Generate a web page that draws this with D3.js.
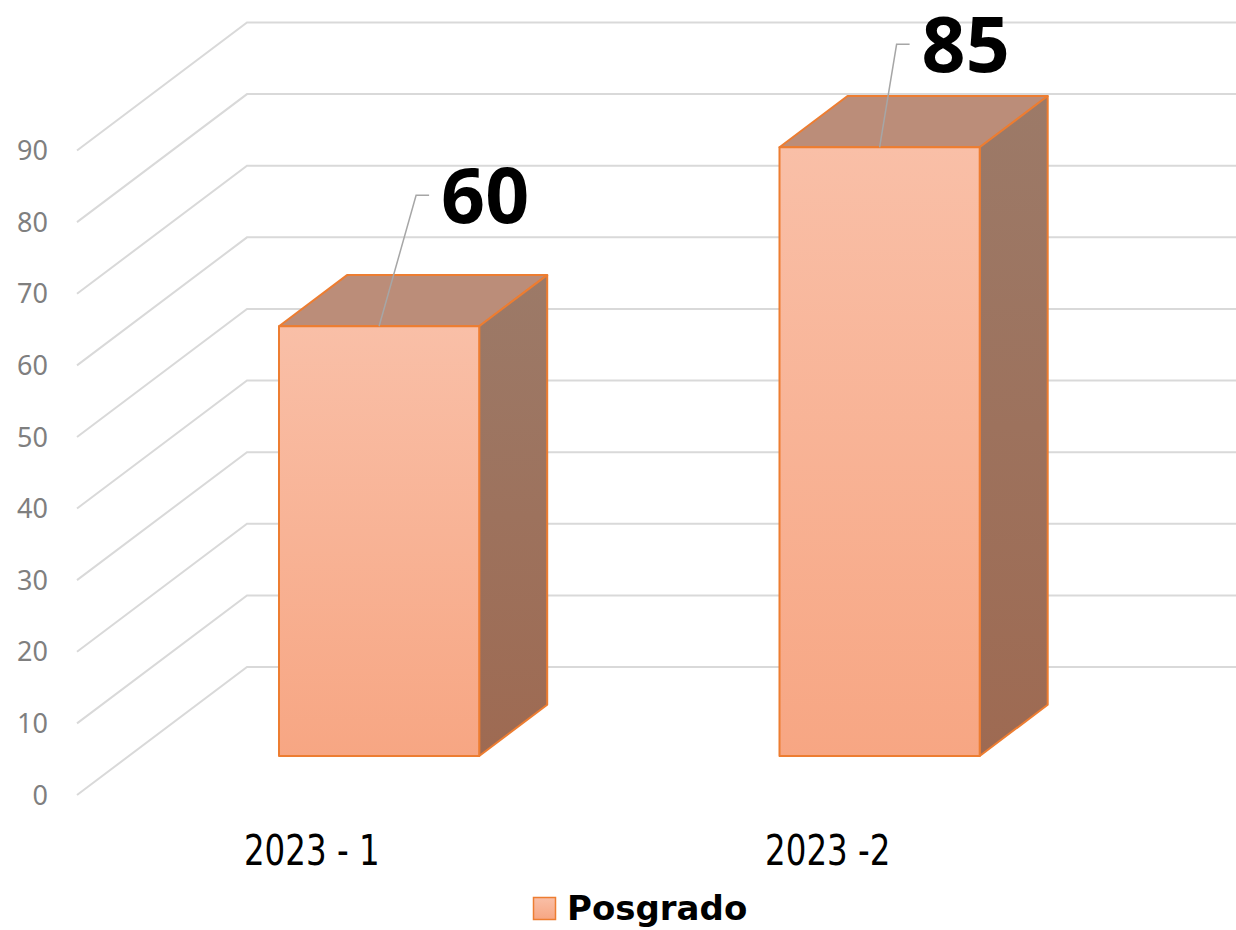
<!DOCTYPE html>
<html lang="es">
<head>
<meta charset="UTF-8">
<title>Posgrado</title>
<script src="https://d3js.org/d3.v7.min.js"></script>
<style>
  body { margin: 0; background: #fff; }
  svg { display: block; }
  .tick-label { font-family: "Noto Sans", sans-serif; font-size: 27px; fill: #7f7f7f; }
  .cat-label { font-family: "DejaVu Sans Condensed", sans-serif; font-size: 43px; fill: #000; white-space: pre; }
  .val-label { font-family: "Noto Sans", sans-serif; font-size: 77px; font-weight: bold; fill: #000; }
  .legend-label { font-family: "DejaVu Sans", sans-serif; font-size: 34px; font-weight: bold; fill: #000; }
</style>
</head>
<body>
<div id="chart"></div>
<script>
// data
const categories = ["2023 - 1   ", "2023 -2"];
const values = [60, 85];
const seriesName = "Posgrado";
const yTicks = [0, 10, 20, 30, 40, 50, 60, 70, 80, 90];

// layout
const W = 1236, H = 930;
const DX = 170, DY = 128;          // depth offset of the 3D box
const zFront = 0.305, zBack = 0.705;
const labelNudge = [[62, -131], [42, -103]];

const svg = d3.select("#chart").append("svg")
    .attr("width", W).attr("height", H);

const defs = svg.append("defs");
const gFront = defs.append("linearGradient").attr("id", "gFront")
    .attr("x1", 0).attr("y1", 0).attr("x2", 0).attr("y2", 1);
gFront.append("stop").attr("offset", 0).attr("stop-color", "#f9bfa7");
gFront.append("stop").attr("offset", 1).attr("stop-color", "#f7a683");
const gSide = defs.append("linearGradient").attr("id", "gSide")
    .attr("x1", 0).attr("y1", 0).attr("x2", 0).attr("y2", 1);
gSide.append("stop").attr("offset", 0).attr("stop-color", "#9c7a68");
gSide.append("stop").attr("offset", 1).attr("stop-color", "#9e6a52");

const x = d3.scaleBand()
    .domain(categories)
    .range([77, 1078])
    .paddingInner(0.6)
    .paddingOuter(0.3);

const y = d3.scaleLinear()
    .domain([0, 90])
    .range([795, 150.5]);

const proj = (px, v, z) => [px + DX * z, y(v) - DY * z];

// walls
const grid = svg.append("g").attr("stroke", "#d9d9d9").attr("stroke-width", 2).attr("fill", "none");
yTicks.forEach(t => {
    const a = proj(77, t, 0), b = proj(77, t, 1);
    grid.append("path").attr("d", `M${a[0]},${a[1]}L${b[0]},${b[1]}L${W},${b[1]}`);
});

svg.append("g").selectAll("text")
    .data(yTicks).enter().append("text")
    .attr("class", "tick-label")
    .attr("x", 48)
    .attr("y", d => y(d))
    .attr("dy", "0.36em")
    .attr("text-anchor", "end")
    .text(d => d);

// bars
const bars = svg.append("g")
    .attr("stroke", "#ed7d31").attr("stroke-width", 2).attr("stroke-linejoin", "round");

categories.forEach((c, i) => {
    const x0 = x(c), x1 = x0 + x.bandwidth(), v = values[i];
    const ftl = proj(x0, v, zFront), ftr = proj(x1, v, zFront);
    const fbl = proj(x0, 0, zFront), fbr = proj(x1, 0, zFront);
    const btl = proj(x0, v, zBack), btr = proj(x1, v, zBack), bbr = proj(x1, 0, zBack);
    const pts = p => p.map(q => q.join(",")).join(" ");
    bars.append("polygon").attr("points", pts([ftl, ftr, btr, btl])).attr("fill", "#bb8d79");
    bars.append("polygon").attr("points", pts([ftr, btr, bbr, fbr])).attr("fill", "url(#gSide)");
    bars.append("polygon").attr("points", pts([ftl, ftr, fbr, fbl])).attr("fill", "url(#gFront)");
});

// data labels with leader lines
const labels = svg.append("g");
categories.forEach((c, i) => {
    const cx = x(c) + x.bandwidth() / 2;
    const top = proj(cx, values[i], zFront);
    const lx = top[0] + labelNudge[i][0], ly = top[1] + labelNudge[i][1];
    labels.append("path")
        .attr("d", `M${top[0]},${top[1]}L${lx - 25},${ly}L${lx - 12},${ly}`)
        .attr("fill", "none").attr("stroke", "#a6a6a6").attr("stroke-width", 1.5);
    labels.append("text")
        .attr("class", "val-label")
        .attr("x", lx).attr("y", ly).attr("dy", "0.36em")
        .text(values[i]);
});

// category labels (squeezed horizontally to match the narrow face)
svg.append("g").selectAll("text")
    .data(categories).enter().append("text")
    .attr("class", "cat-label")
    .attr("transform", d => `translate(${x(d) + x.bandwidth() / 2},865) scale(0.84,1)`)
    .attr("text-anchor", "middle")
    .text(d => d);

// legend
const lg = svg.append("g");
lg.append("rect").attr("x", 533.5).attr("y", 897.5).attr("width", 22).attr("height", 22)
    .attr("fill", "url(#gFront)").attr("stroke", "#ed7d31").attr("stroke-width", 1.5);
lg.append("text").attr("class", "legend-label")
    .attr("x", 567).attr("y", 920).text(seriesName);
</script>
</body>
</html>
